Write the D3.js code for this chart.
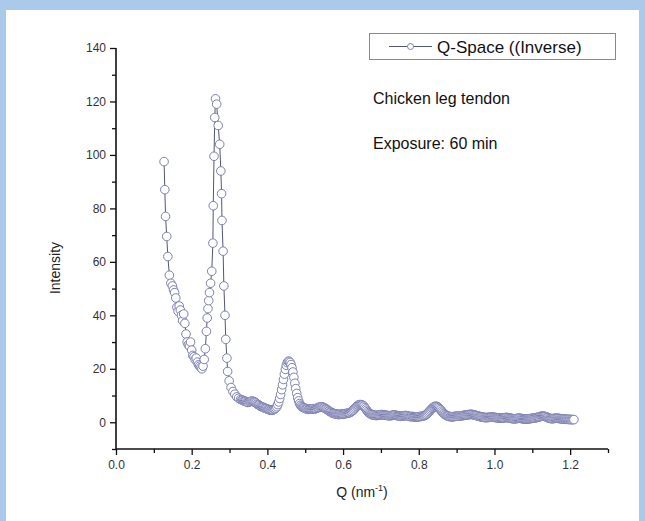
<!DOCTYPE html>
<html>
<head>
<meta charset="utf-8">
<script src="https://cdn.jsdelivr.net/npm/d3@7"></script>
<style>
  html, body { margin: 0; padding: 0; background: #ffffff; }
  svg { display: block; font-family: "Liberation Sans", Arial, sans-serif; }
</style>
</head>
<body>
<svg id="chart" width="645" height="521"></svg>
<script>
// low-Q part, points read one by one: [Q, intensity]
const lowQ = [
  [0.127, 97.5], [0.129, 87], [0.131, 77], [0.134, 69.5], [0.137, 62], [0.141, 55],
  [0.145, 52], [0.149, 51], [0.152, 49.5], [0.155, 48.5], [0.158, 46.5], [0.161, 43],
  [0.164, 41.5], [0.167, 43.5], [0.170, 42], [0.173, 40], [0.176, 38], [0.179, 40.5],
  [0.182, 37], [0.185, 33], [0.188, 30], [0.191, 29], [0.194, 28.5], [0.197, 30],
  [0.200, 27], [0.203, 25], [0.206, 24.5], [0.209, 23.5], [0.212, 24], [0.215, 22.5],
  [0.218, 21.5], [0.221, 21], [0.224, 20.5], [0.227, 20], [0.230, 21], [0.233, 23.5],
  [0.236, 27.5], [0.239, 34], [0.241, 39], [0.243, 42.5], [0.245, 45.5], [0.247, 48.5],
  [0.250, 52], [0.253, 56.5], [0.256, 67], [0.257, 81], [0.259, 99.5], [0.261, 114],
  [0.263, 121], [0.266, 119], [0.270, 111], [0.274, 104], [0.277, 94], [0.279, 85.5],
  [0.280, 75.5], [0.283, 64], [0.285, 51], [0.288, 40], [0.290, 31], [0.293, 24],
  [0.295, 19], [0.299, 15.5], [0.304, 13], [0.309, 11.5], [0.314, 10.5], [0.319, 9.5],
  [0.324, 9], [0.329, 8.5]
];

// high-Q tail (dense band)
const highQ = [
  [0.3325, 8.4], [0.335, 8.2], [0.3375, 8.0], [0.340, 7.9], [0.3425, 7.8], [0.345, 7.6],
  [0.3475, 7.4], [0.350, 7.5], [0.3525, 7.7], [0.355, 7.7], [0.3575, 7.9], [0.360, 7.9],
  [0.3625, 7.8], [0.365, 7.6], [0.3675, 7.5], [0.370, 7.2], [0.3725, 6.8], [0.375, 6.6],
  [0.3775, 6.5], [0.380, 6.2], [0.3825, 5.9], [0.385, 5.8], [0.3875, 5.7], [0.390, 5.5],
  [0.3925, 5.3], [0.395, 5.2], [0.3975, 5.1], [0.400, 4.9], [0.4025, 4.8], [0.405, 4.7],
  [0.4075, 4.5], [0.410, 4.6], [0.4125, 4.5], [0.415, 4.6], [0.4175, 4.8], [0.420, 5.0],
  [0.4225, 5.3], [0.425, 5.8], [0.4275, 6.6], [0.430, 7.6], [0.4325, 8.9], [0.435, 10.4],
  [0.4375, 12.2], [0.440, 14.0], [0.4425, 16.0], [0.445, 18.0], [0.4475, 19.8], [0.450, 21.3],
  [0.4525, 22.3], [0.455, 22.8], [0.4575, 22.8], [0.460, 22.4], [0.4625, 21.6], [0.465, 20.4],
  [0.4675, 18.8], [0.470, 16.8], [0.4725, 14.6], [0.475, 12.6], [0.4775, 10.8], [0.480, 9.2],
  [0.4825, 8.0], [0.485, 7.0], [0.4875, 6.4], [0.490, 6.0], [0.4925, 5.7], [0.495, 5.5],
  [0.4975, 5.4], [0.500, 5.2], [0.5025, 5.0], [0.505, 5.0], [0.5075, 4.8], [0.510, 4.9],
  [0.5125, 5.0], [0.515, 4.9], [0.5175, 4.9], [0.520, 5.0], [0.5225, 5.1], [0.525, 5.0],
  [0.5275, 5.1], [0.530, 5.2], [0.5325, 5.4], [0.535, 5.5], [0.5375, 5.7], [0.540, 5.7],
  [0.5425, 5.8], [0.545, 5.7], [0.5475, 5.6], [0.550, 5.4], [0.5525, 5.2], [0.555, 5.0],
  [0.5575, 4.8], [0.560, 4.5], [0.5625, 4.2], [0.565, 4.0], [0.5675, 3.8], [0.570, 3.6],
  [0.5725, 3.4], [0.575, 3.3], [0.5775, 3.2], [0.580, 3.1], [0.5825, 3.1], [0.585, 3.0],
  [0.5875, 2.9], [0.590, 2.9], [0.5925, 3.0], [0.595, 3.0], [0.5975, 3.0], [0.600, 3.1],
  [0.6025, 3.2], [0.605, 3.2], [0.6075, 3.3], [0.610, 3.3], [0.6125, 3.4], [0.615, 3.5],
  [0.6175, 3.6], [0.620, 3.8], [0.6225, 4.0], [0.625, 4.3], [0.6275, 4.6], [0.630, 5.0],
  [0.6325, 5.4], [0.635, 5.8], [0.6375, 6.1], [0.640, 6.4], [0.6425, 6.6], [0.645, 6.6],
  [0.6475, 6.6], [0.650, 6.5], [0.6525, 6.3], [0.655, 6.0], [0.6575, 5.5], [0.660, 5.0],
  [0.6625, 4.5], [0.665, 4.0], [0.6675, 3.6], [0.670, 3.3], [0.6725, 3.1], [0.675, 2.9],
  [0.6775, 2.8], [0.680, 2.7], [0.6825, 2.6], [0.685, 2.6], [0.6875, 2.5], [0.690, 2.6],
  [0.6925, 2.6], [0.695, 2.7], [0.6975, 2.8], [0.700, 2.8], [0.7025, 2.9], [0.705, 2.8],
  [0.7075, 2.8], [0.710, 2.7], [0.7125, 2.6], [0.715, 2.6], [0.7175, 2.5], [0.720, 2.5],
  [0.7225, 2.4], [0.725, 2.5], [0.7275, 2.5], [0.730, 2.6], [0.7325, 2.7], [0.735, 2.7],
  [0.7375, 2.7], [0.740, 2.6], [0.7425, 2.5], [0.745, 2.4], [0.7475, 2.3], [0.750, 2.3],
  [0.7525, 2.2], [0.755, 2.3], [0.7575, 2.3], [0.760, 2.4], [0.7625, 2.5], [0.765, 2.5],
  [0.7675, 2.5], [0.770, 2.4], [0.7725, 2.3], [0.775, 2.2], [0.7775, 2.1], [0.780, 2.1],
  [0.7825, 2.2], [0.785, 2.1], [0.7875, 2.0], [0.790, 2.0], [0.7925, 1.9], [0.795, 2.0],
  [0.7975, 2.0], [0.800, 2.1], [0.8025, 2.1], [0.805, 2.2], [0.8075, 2.2], [0.810, 2.3],
  [0.8125, 2.4], [0.815, 2.5], [0.8175, 2.7], [0.820, 2.9], [0.8225, 3.2], [0.825, 3.6],
  [0.8275, 4.0], [0.830, 4.4], [0.8325, 4.8], [0.835, 5.2], [0.8375, 5.5], [0.840, 5.8],
  [0.8425, 5.9], [0.845, 6.0], [0.8475, 5.9], [0.850, 5.8], [0.8525, 5.5], [0.855, 5.1],
  [0.8575, 4.7], [0.860, 4.2], [0.8625, 3.8], [0.865, 3.4], [0.8675, 3.1], [0.870, 2.8],
  [0.8725, 2.6], [0.875, 2.4], [0.8775, 2.3], [0.880, 2.2], [0.8825, 2.1], [0.885, 2.1],
  [0.8875, 2.0], [0.890, 2.1], [0.8925, 2.1], [0.895, 2.2], [0.8975, 2.2], [0.900, 2.3],
  [0.9025, 2.3], [0.905, 2.3], [0.9075, 2.4], [0.910, 2.4], [0.9125, 2.4], [0.915, 2.5],
  [0.9175, 2.5], [0.920, 2.6], [0.9225, 2.7], [0.925, 2.7], [0.9275, 2.8], [0.930, 2.8],
  [0.9325, 2.9], [0.935, 2.9], [0.9375, 3.0], [0.940, 2.9], [0.9425, 2.9], [0.945, 2.8],
  [0.9475, 2.7], [0.950, 2.6], [0.9525, 2.5], [0.955, 2.4], [0.9575, 2.3], [0.960, 2.2],
  [0.9625, 2.1], [0.965, 2.0], [0.9675, 1.9], [0.970, 1.9], [0.9725, 1.8], [0.975, 1.8],
  [0.9775, 1.7], [0.980, 1.8], [0.9825, 1.8], [0.985, 1.8], [0.9875, 1.9], [0.990, 1.9],
  [0.9925, 2.0], [0.995, 1.9], [0.9975, 1.9], [1.000, 1.8], [1.0025, 1.8], [1.005, 1.7],
  [1.0075, 1.7], [1.010, 1.6], [1.0125, 1.6], [1.015, 1.6], [1.0175, 1.5], [1.020, 1.6],
  [1.0225, 1.6], [1.025, 1.7], [1.0275, 1.7], [1.030, 1.8], [1.0325, 1.8], [1.035, 1.7],
  [1.0375, 1.7], [1.040, 1.6], [1.0425, 1.5], [1.045, 1.4], [1.0475, 1.4], [1.050, 1.3],
  [1.0525, 1.3], [1.055, 1.3], [1.0575, 1.4], [1.060, 1.4], [1.0625, 1.5], [1.065, 1.5],
  [1.0675, 1.5], [1.070, 1.4], [1.0725, 1.4], [1.075, 1.3], [1.0775, 1.2], [1.080, 1.2],
  [1.0825, 1.2], [1.085, 1.2], [1.0875, 1.2], [1.090, 1.3], [1.0925, 1.3], [1.095, 1.4],
  [1.0975, 1.4], [1.100, 1.5], [1.1025, 1.5], [1.105, 1.6], [1.1075, 1.6], [1.110, 1.7],
  [1.1125, 1.8], [1.115, 1.9], [1.1175, 2.0], [1.120, 2.1], [1.1225, 2.2], [1.125, 2.3],
  [1.1275, 2.3], [1.130, 2.3], [1.1325, 2.2], [1.135, 2.1], [1.1375, 2.0], [1.140, 1.8],
  [1.1425, 1.6], [1.145, 1.5], [1.1475, 1.4], [1.150, 1.4], [1.1525, 1.3], [1.155, 1.4],
  [1.1575, 1.4], [1.160, 1.5], [1.1625, 1.5], [1.165, 1.5], [1.1675, 1.5], [1.170, 1.4],
  [1.1725, 1.4], [1.175, 1.3], [1.1775, 1.3], [1.180, 1.2], [1.1825, 1.2], [1.185, 1.2],
  [1.1875, 1.1], [1.190, 1.1], [1.1925, 1.1], [1.195, 1.1], [1.1975, 1.0], [1.200, 1.1],
  [1.2025, 1.0], [1.205, 1.0], [1.2075, 1.0], [1.210, 1.0]
];

const xMajor = [0, 0.2, 0.4, 0.6, 0.8, 1.0, 1.2];
const xMinor = [0.1, 0.3, 0.5, 0.7, 0.9, 1.1, 1.3];
const yMajor = [0, 20, 40, 60, 80, 100, 120, 140];
const yMinor = [-10, 10, 30, 50, 70, 90, 110, 130];

const seriesName = "Q-Space ((Inverse)";
const notes = ["Chicken leg tendon", "Exposure: 60 min"];

const svg = d3.select("#chart");

// blue page frame
svg.append("rect").attr("x", 0).attr("y", 0).attr("width", 645).attr("height", 521).attr("fill", "#abc9ea");
svg.append("rect").attr("x", 6).attr("y", 10).attr("width", 633).attr("height", 511).attr("fill", "#ffffff");

const x = d3.scaleLinear().domain([0, 1.3]).range([116, 608]);
const y = d3.scaleLinear().domain([-10, 140]).range([449, 48]);

const data = lowQ.concat(highQ);

const lineColor = "#535578";
const symColor = "#7d7fb2";

// series
svg.append("path")
  .datum(data)
  .attr("fill", "none")
  .attr("stroke", lineColor)
  .attr("stroke-width", 1)
  .attr("d", d3.line().x(d => x(d[0])).y(d => y(d[1])));

svg.append("g").selectAll("circle")
  .data(data)
  .join("circle")
  .attr("cx", d => x(d[0]))
  .attr("cy", d => y(d[1]))
  .attr("r", 4.3)
  .attr("fill", "#ffffff")
  .attr("stroke", symColor)
  .attr("stroke-width", 1);

// axes
function styleAxis(g) {
  g.selectAll(".domain").remove();
  g.selectAll(".tick line").attr("stroke", "#111").attr("stroke-width", 1.3);
  g.selectAll(".tick text")
    .attr("fill", "#333")
    .style("font-size", "12px")
    .style("font-family", "Liberation Sans, Arial, sans-serif");
}

svg.append("g")
  .attr("transform", "translate(0,449)")
  .call(d3.axisBottom(x).tickValues(xMajor).tickSize(6).tickPadding(5).tickFormat(d3.format(".1f")))
  .call(styleAxis);
svg.append("g")
  .attr("transform", "translate(0,449)")
  .call(d3.axisBottom(x).tickValues(xMinor).tickSize(4).tickFormat(""))
  .call(styleAxis);

svg.append("g")
  .attr("transform", "translate(116,0)")
  .call(d3.axisLeft(y).tickValues(yMajor).tickSize(6).tickPadding(4))
  .call(styleAxis);
svg.append("g")
  .attr("transform", "translate(116,0)")
  .call(d3.axisLeft(y).tickValues(yMinor).tickSize(4).tickFormat(""))
  .call(styleAxis);

// axis lines
svg.append("line")
  .attr("x1", x(0)).attr("x2", x(1.3)).attr("y1", y(-10)).attr("y2", y(-10))
  .attr("stroke", "#111").attr("stroke-width", 1.6);
svg.append("line")
  .attr("x1", x(0)).attr("x2", x(0)).attr("y1", y(-10)).attr("y2", y(140))
  .attr("stroke", "#111").attr("stroke-width", 1.6);

// axis titles
svg.append("text")
  .attr("transform", "translate(60,268) rotate(-90)")
  .attr("text-anchor", "middle")
  .attr("fill", "#222")
  .style("font-size", "14px")
  .text("Intensity");

const xt = svg.append("text")
  .attr("x", 362).attr("y", 497)
  .attr("text-anchor", "middle")
  .attr("fill", "#222")
  .style("font-size", "14px");
xt.append("tspan").text("Q (nm");
xt.append("tspan").attr("dy", -6).style("font-size", "9px").text("-1");
xt.append("tspan").attr("dy", 6).text(")");

// legend
svg.append("rect")
  .attr("x", 369.5).attr("y", 33.5).attr("width", 246).attr("height", 26)
  .attr("fill", "#ffffff").attr("stroke", "#8a8a8a").attr("stroke-width", 1);
svg.append("line")
  .attr("x1", 389).attr("x2", 432).attr("y1", 46.5).attr("y2", 46.5)
  .attr("stroke", lineColor).attr("stroke-width", 1);
svg.append("circle")
  .attr("cx", 410.5).attr("cy", 46.5).attr("r", 3)
  .attr("fill", "#ffffff").attr("stroke", symColor).attr("stroke-width", 1);
svg.append("text")
  .attr("x", 437).attr("y", 52.5)
  .attr("fill", "#111")
  .style("font-size", "17px")
  .text(seriesName);

// annotations
svg.selectAll(".note")
  .data(notes)
  .join("text")
  .attr("class", "note")
  .attr("x", 373)
  .attr("y", (d, i) => 104 + i * 45)
  .attr("fill", "#111")
  .style("font-size", "16px")
  .text(d => d);
</script>
</body>
</html>
